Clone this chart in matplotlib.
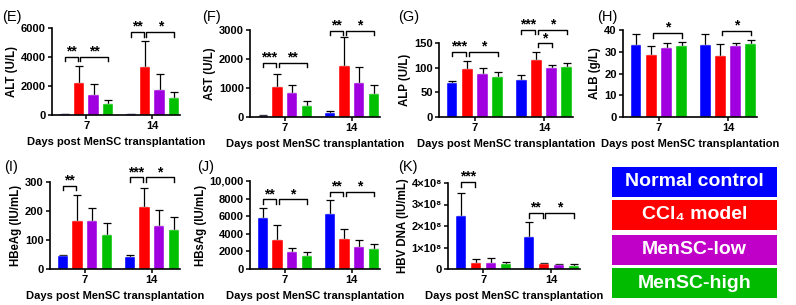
import matplotlib
matplotlib.use('Agg')
import matplotlib.pyplot as plt
import numpy as np
from matplotlib.patches import Rectangle

plt.rcParams['font.family'] = ['Liberation Sans', 'DejaVu Sans']
plt.rcParams['font.weight'] = 'bold'

W, H = 796, 305

days = ['7', '14']
groups = ['Normal control', 'CCl\u2084 model', 'MenSC-low', 'MenSC-high']
bar_colors = ['#0000FF', '#FF0000', '#A000E0', '#00C000']
box_colors = ['#0000FF', '#FF0000', '#C000C8', '#00BB00']

# mean / upper error, rows = day 7, day 14
alt_mean = [[50, 2200, 1400, 750], [50, 3300, 1750, 1150]]
alt_err = [[20, 1200, 750, 300], [20, 1800, 1100, 450]]
ast_mean = [[50, 1050, 820, 370], [130, 1750, 1180, 800]]
ast_err = [[15, 450, 300, 180], [80, 1000, 550, 300]]
alp_mean = [[68, 98, 88, 81], [74, 116, 100, 102]]
alp_err = [[4, 16, 12, 11], [11, 15, 6, 7]]
alb_mean = [[33, 28.5, 31.7, 32.7], [33.3, 28, 32.5, 33.7]]
alb_err = [[5, 4, 2.5, 1.8], [5, 5.5, 1.3, 1.8]]
hbeag_mean = [[45, 165, 165, 118], [40, 213, 150, 133]]
hbeag_err = [[5, 90, 45, 42], [7, 65, 55, 47]]
hbsag_mean = [[5800, 3300, 1900, 1450], [6300, 3400, 2450, 2250]]
hbsag_err = [[1100, 1750, 500, 500], [1550, 1200, 900, 550]]
dna_mean = [[2.45e8, 0.28e8, 0.30e8, 0.25e8], [1.47e8, 0.22e8, 0.18e8, 0.15e8]]
dna_err = [[1.1e8, 0.18e8, 0.22e8, 0.08e8], [0.7e8, 0.05e8, 0.05e8, 0.07e8]]

# significance brackets: (day index, group a, group b, height, label)
alt_sig = [(0, 0, 1, 4000, '**'), (0, 1, 3, 4000, '**'),
           (1, 0, 1, 5700, '**'), (1, 1, 3, 5700, '*')]
ast_sig = [(0, 0, 1, 1870, '***'), (0, 1, 3, 1870, '**'),
           (1, 0, 1, 2980, '**'), (1, 1, 3, 2980, '*')]
alp_sig = [(0, 0, 1, 132, '***'), (0, 1, 3, 132, '*'),
           (1, 0, 1, 176, '***'), (1, 1, 3, 176, '*'), (1, 1, 2, 149, '*')]
alb_sig = [(0, 1, 3, 38.5, '*'), (1, 1, 3, 39.5, '*')]
hbeag_sig = [(0, 0, 1, 287, '**'), (1, 0, 1, 316, '***'), (1, 1, 3, 316, '*')]
hbsag_sig = [(0, 0, 1, 7900, '**'), (0, 1, 3, 7900, '*'),
             (1, 0, 1, 8780, '**'), (1, 1, 3, 8780, '*')]
dna_sig = [(0, 0, 1, 4.03e8, '***'), (1, 0, 1, 2.59e8, '**'), (1, 1, 3, 2.59e8, '*')]

offsets = [-0.33, -0.11, 0.11, 0.33]
bw = 0.155

fig = plt.figure(figsize=(W / 100, H / 100), dpi=100)


def px_axes(left, right, top, bottom):
    return fig.add_axes([left / W, 1 - bottom / H, (right - left) / W, (bottom - top) / H])


def draw_panel(ax, means, errs, ymax, yticks, ylabel, sig, yticklabels=None):
    x = np.arange(len(days))
    for k in range(4):
        xs = x + offsets[k]
        vals = [means[d][k] for d in range(2)]
        e = [errs[d][k] for d in range(2)]
        ax.errorbar(xs, vals, yerr=[np.zeros(2), e], fmt='none', ecolor='black',
                    elinewidth=0.9, capsize=3, capthick=0.9, zorder=1)
        ax.bar(xs, vals, width=bw, color=bar_colors[k], edgecolor='white',
               linewidth=0.3, zorder=2)
    drop = 0.05 * ymax
    for d, a, b, y, lab in sig:
        x1 = d + offsets[a] + (0.02 if a == 1 else 0)
        x2 = d + offsets[b] - (0.02 if b == 1 else 0)
        ax.plot([x1, x1, x2, x2], [y - drop, y, y, y - drop], color='black',
                lw=1, clip_on=False, zorder=3)
        ax.annotate(lab, xy=((x1 + x2) / 2, y), xytext=(0, 1), textcoords='offset points',
                    ha='center', va='baseline', fontsize=10, fontweight='bold',
                    annotation_clip=False)
    ax.set_xlim(-0.52, 1.42)
    ax.set_ylim(0, ymax)
    ax.set_yticks(yticks)
    if yticklabels is not None:
        ax.set_yticklabels(yticklabels)
    ax.set_xticks(x)
    ax.set_xticklabels(days)
    ax.spines['top'].set_visible(False)
    ax.spines['right'].set_visible(False)
    for s in ['left', 'bottom']:
        ax.spines[s].set_linewidth(1.2)
    ax.tick_params(axis='both', width=1.1, length=3, pad=1.5, labelsize=8)
    for t in ax.get_xticklabels() + ax.get_yticklabels():
        t.set_fontweight('bold')
    ax.set_ylabel(ylabel, fontsize=8.3, fontweight='bold', labelpad=2)
    ax.set_xlabel('Days post MenSC transplantation', fontsize=8, fontweight='bold', labelpad=4)


axE = px_axes(52, 180, 28, 115)
draw_panel(axE, alt_mean, alt_err, 6000, [0, 2000, 4000, 6000], 'ALT (U/L)', alt_sig)
axF = px_axes(250, 380, 30, 117)
draw_panel(axF, ast_mean, ast_err, 3000, [0, 1000, 2000, 3000], 'AST (U/L)', ast_sig)
axG = px_axes(439, 573, 43, 117)
draw_panel(axG, alp_mean, alp_err, 150, [0, 50, 100, 150], 'ALP (U/L)', alp_sig)
axH = px_axes(623, 757, 30, 117)
draw_panel(axH, alb_mean, alb_err, 40, [0, 10, 20, 30, 40], 'ALB (g/L)', alb_sig)
axI = px_axes(50, 180, 182, 269)
draw_panel(axI, hbeag_mean, hbeag_err, 300, [0, 100, 200, 300], 'HBeAg (IU/mL)', hbeag_sig)
axJ = px_axes(250, 380, 181, 269)
draw_panel(axJ, hbsag_mean, hbsag_err, 10000, [0, 2000, 4000, 6000, 8000, 10000], 'HBsAg (IU/mL)',
           hbsag_sig, ['0', '2000', '4000', '6000', '8000', '10,000'])
axK = px_axes(448, 580, 183, 269)
draw_panel(axK, dna_mean, dna_err, 4e8, [0, 1e8, 2e8, 3e8, 4e8], 'HBV DNA (IU/mL)', dna_sig,
           ['0', '1\u00d710\u2078', '2\u00d710\u2078', '3\u00d710\u2078', '4\u00d710\u2078'])

# panel letters
letters = ['(E)', '(F)', '(G)', '(H)', '(I)', '(J)', '(K)']
letter_pos = [(2, 17), (202, 17), (398, 17), (597, 17), (4, 167), (197, 167), (398, 167)]
for lab, (lx, ly) in zip(letters, letter_pos):
    fig.text(lx / W, 1 - ly / H, lab, fontsize=10.5, fontweight='normal', ha='left', va='center')

# legend boxes
box_tops = [167, 200, 235, 268]
box_h = 30
for name, c, top in zip(groups, box_colors, box_tops):
    fig.patches.append(Rectangle((612 / W, 1 - (top + box_h) / H), 165 / W, box_h / H,
                                 transform=fig.transFigure, facecolor=c, edgecolor='none'))
    fig.text((612 + 82.5) / W, 1 - (top + box_h / 2) / H, name, color='white', fontsize=14,
             fontweight='bold', ha='center', va='center')

fig.savefig('out.png', dpi=100)
